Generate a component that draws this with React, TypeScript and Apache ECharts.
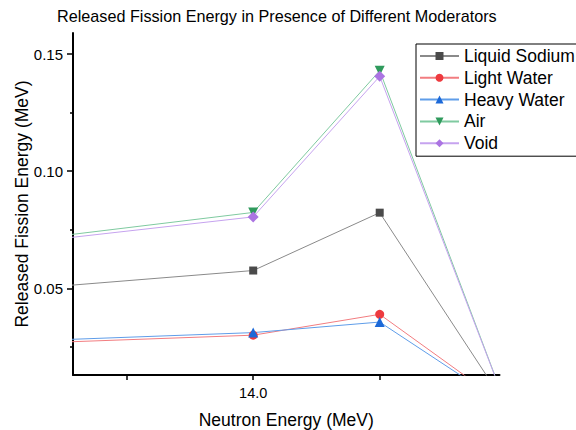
import React, { useEffect, useRef } from "react";
import * as echarts from "echarts";

const xValues = [13.0, 14.0, 14.5, 15.0];
const liquidSodium = [0.0489, 0.0576, 0.0823, 0.0];
const lightWater = [0.0261, 0.03, 0.0389, 0.0];
const heavyWater = [0.0271, 0.0311, 0.0356, 0.0];
const air = [0.0693, 0.0824, 0.1429, 0.0];
const voidValues = [0.0683, 0.0805, 0.1405, 0.0];

const xMajorTicks = [13.5, 14.0, 14.5];
const xTickLabels = [14.0];
const yTickLabels = [0.05, 0.1, 0.15];
const yMinorTicks = [0.025, 0.075, 0.125];

const seriesNames = ["Liquid Sodium", "Light Water", "Heavy Water", "Air", "Void"];

const FONT = "Liberation Sans, Arial, sans-serif";

export default function App() {
  const ref = useRef<HTMLDivElement>(null);
  useEffect(() => {
    document.body.style.margin = "0";
    if (!ref.current) return;
    const chart = echarts.init(ref.current, null, { renderer: "svg" });

    const mk = (
      name: string,
      vals: number[],
      lineColor: string,
      markColor: string,
      symbol: string,
      size: number,
      rotate = 0
    ) => ({
      name,
      type: "line",
      data: xValues.map((x, i) => [x, vals[i]]),
      symbol,
      symbolSize: size,
      symbolRotate: rotate,
      showAllSymbol: true,
      clip: true,
      itemStyle: { color: markColor },
      lineStyle: { color: lineColor, width: 1 },
      xAxisIndex: 0,
      yAxisIndex: 0,
    });

    chart.setOption({
      animation: false,
      backgroundColor: "#ffffff",
      title: {
        text: "Released Fission Energy in Presence of Different Moderators",
        left: 57,
        top: 8,
        padding: 0,
        textStyle: { fontFamily: FONT, fontSize: 16.2, fontWeight: "normal", color: "#000" },
      },
      legend: {
        orient: "vertical",
        left: 416,
        top: 44,
        padding: [3, 12, 4, 3],
        itemGap: 3.8,
        itemWidth: 39,
        itemHeight: 10,
        borderColor: "#000",
        borderWidth: 1,
        borderRadius: 0,
        data: seriesNames,
        textStyle: { fontFamily: FONT, fontSize: 17.5, color: "#000", lineHeight: 18 },
      },
      grid: {
        left: 73,
        top: 33,
        width: 426.5,
        height: 342,
        containLabel: false,
        outerBoundsMode: "none",
      },
      xAxis: {
        type: "value",
        min: 13.2877,
        max: 14.9735,
        name: "Neutron Energy (MeV)",
        nameLocation: "middle",
        nameGap: 36,
        nameTextStyle: { fontFamily: FONT, fontSize: 17.5, color: "#000" },
        axisLine: { show: true, onZero: false, lineStyle: { color: "#000", width: 2 } },
        axisTick: {
          show: true,
          customValues: xMajorTicks,
          length: 5,
          inside: false,
          lineStyle: { color: "#000", width: 1.5 },
        },
        axisLabel: {
          customValues: xTickLabels,
          formatter: (v: number) => v.toFixed(1),
          fontFamily: FONT,
          fontSize: 14.5,
          color: "#000",
          margin: 10,
        },
        splitLine: { show: false },
      },
      yAxis: [
        {
          type: "value",
          min: 0.013,
          max: 0.159,
          name: "Released Fission Energy (MeV)",
          nameLocation: "middle",
          nameGap: 42,
          nameMoveOverlap: false,
          nameTextStyle: { fontFamily: FONT, fontSize: 17.5, color: "#000" },
          axisLine: { show: true, onZero: false, lineStyle: { color: "#000", width: 2 } },
          axisTick: {
            show: true,
            customValues: yTickLabels,
            length: 6,
            lineStyle: { color: "#000", width: 1.5 },
          },
          axisLabel: {
            customValues: yTickLabels,
            formatter: (v: number) => v.toFixed(2),
            fontFamily: FONT,
            fontSize: 15,
            color: "#000",
            margin: 10,
          },
          splitLine: { show: false },
        },
        {
          type: "value",
          min: 0.013,
          max: 0.159,
          position: "left",
          axisLine: { show: false },
          axisTick: {
            show: true,
            customValues: yMinorTicks,
            length: 3,
            lineStyle: { color: "#000", width: 1.5 },
          },
          axisLabel: { show: false },
          splitLine: { show: false },
        },
      ],
      series: [
        mk(seriesNames[0], liquidSodium, "#8a8a8a", "#4a4a4a", "rect", 8),
        mk(seriesNames[1], lightWater, "#f27d80", "#ee3a3f", "circle", 9),
        mk(seriesNames[2], heavyWater, "#5f9de9", "#1c69d8", "triangle", 10),
        mk(seriesNames[3], air, "#7fcaa0", "#2f9a5c", "triangle", 10, 180),
        mk(seriesNames[4], voidValues, "#c6a3ef", "#ab74e2", "diamond", 11),
      ],
    });
    return () => chart.dispose();
  }, []);
  return <div ref={ref} style={{ width: 576, height: 430 }} />;
}
